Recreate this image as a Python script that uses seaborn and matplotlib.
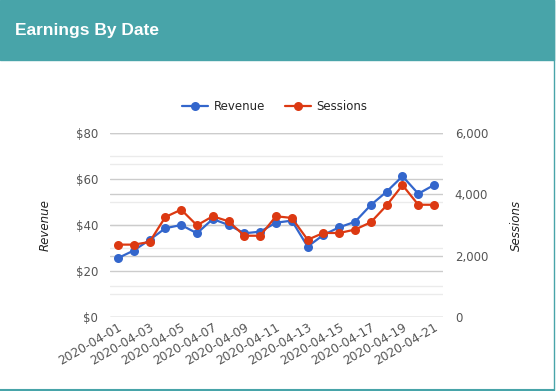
import pandas as pd
import matplotlib
matplotlib.use('Agg')
import matplotlib.pyplot as plt
import matplotlib.dates as mdates
from matplotlib.patches import Rectangle
from matplotlib.lines import Line2D
import seaborn as sns

dates = pd.date_range('2020-04-01', '2020-04-21', freq='D')
revenue = [25.6, 28.9, 33.5, 38.6, 40.0, 36.4, 42.6, 40.0, 36.4, 37.1, 41.0,
           41.9, 30.6, 35.7, 39.0, 41.4, 48.7, 54.5, 61.2, 53.6, 57.4]
sessions = [2360, 2360, 2445, 3260, 3500, 2990, 3285, 3120, 2650, 2650, 3285,
            3230, 2520, 2740, 2740, 2850, 3090, 3640, 4300, 3660, 3660]
left_ticks = [0, 20, 40, 60, 80]
right_ticks = [0, 2000, 4000, 6000]
left_max, right_max = 80, 6000

data = pd.DataFrame({'date': dates, 'Revenue': revenue, 'Sessions': sessions})

sns.set_style('white')
plt.rcParams['font.family'] = ['DejaVu Sans']

TEAL = '#48a4a9'
BLUE = '#3366cc'
RED = '#dc3912'
GRID = '#cccccc'
GRID_MINOR = '#ebebeb'
TICK = '#555555'

fig = plt.figure(figsize=(5.57, 3.91), dpi=100)
fig.patch.set_facecolor('white')

# card header + border
fig.patches.append(Rectangle((0, 1 - 60 / 391), 554 / 557, 60 / 391,
                             transform=fig.transFigure, color=TEAL, zorder=0))
fig.add_artist(Line2D([0, 553.5 / 557], [1.5 / 391, 1.5 / 391],
                      transform=fig.transFigure, color=TEAL, lw=1.5))
fig.add_artist(Line2D([553.5 / 557, 553.5 / 557], [1.5 / 391, 1],
                      transform=fig.transFigure, color=TEAL, lw=1))
fig.text(15 / 557, 1 - 30 / 391, 'Earnings By Date', color='white',
         fontsize=12.5, fontweight='bold', family='Liberation Sans',
         va='center', ha='left')

ax = fig.add_axes([110 / 557, 1 - 317 / 391, 333 / 557, 184 / 391])
ax2 = ax.twinx()

# gridlines for both axes live on the left axes so no line crosses a marker
scale = left_max / right_max
for v in [10, 30, 50, 70]:
    ax.axhline(v, color=GRID_MINOR, lw=1, zorder=0)
for v in [1000, 3000, 5000]:
    ax.axhline(v * scale, color=GRID_MINOR, lw=1, zorder=0)
for v in left_ticks:
    ax.axhline(v, color=GRID, lw=1, zorder=0.5)
for v in right_ticks:
    ax.axhline(v * scale, color=GRID, lw=1, zorder=0.5)

sns.lineplot(data=data, x='date', y='Revenue', ax=ax, color=BLUE, lw=1.6,
             marker='o', markersize=6.5, markeredgewidth=0, zorder=3)
sns.lineplot(data=data, x='date', y='Sessions', ax=ax2, color=RED, lw=1.6,
             marker='o', markersize=6.5, markeredgewidth=0, zorder=3)

ax.set_ylim(0, left_max)
ax2.set_ylim(0, right_max)
ax.set_xlim(dates[0] - pd.Timedelta(hours=12), dates[-1] + pd.Timedelta(hours=13.5))

ax.set_yticks(left_ticks)
ax.set_yticklabels([f'${v}' for v in left_ticks])
ax2.set_yticks(right_ticks)
ax2.set_yticklabels([f'{v:,}' for v in right_ticks])

for a in (ax, ax2):
    a.grid(False)
    a.set_xlabel('')
    a.set_ylabel('')
    for s in a.spines.values():
        s.set_visible(False)
    a.tick_params(axis='both', which='both', length=0, labelsize=8.5,
                  labelcolor=TICK, pad=8.5)

ax.set_xticks(dates[::2])
ax.xaxis.set_major_formatter(mdates.DateFormatter('%Y-%m-%d'))
ax.tick_params(axis='x', pad=3, labelsize=8.8)
for lbl in ax.get_xticklabels():
    lbl.set_rotation(30)
    lbl.set_ha('right')
    lbl.set_rotation_mode('anchor')

fig.text(45 / 557, 1 - 225 / 391, 'Revenue', rotation=90, style='italic',
         fontsize=8.5, ha='center', va='center', color='#222222')
fig.text(516 / 557, 1 - 225 / 391, 'Sessions', rotation=90, style='italic',
         fontsize=8.5, ha='center', va='center', color='#222222')

handles = [Line2D([], [], color=BLUE, lw=1.6, marker='o', markersize=6.5, markeredgewidth=0),
           Line2D([], [], color=RED, lw=1.6, marker='o', markersize=6.5, markeredgewidth=0)]
fig.legend(handles, ['Revenue', 'Sessions'], loc='center', ncol=2,
           bbox_to_anchor=(275 / 557, 1 - 107 / 391), frameon=False,
           fontsize=8.5, handlelength=2.2, columnspacing=1.6, handletextpad=0.5)

fig.savefig('out.png', dpi=100)
